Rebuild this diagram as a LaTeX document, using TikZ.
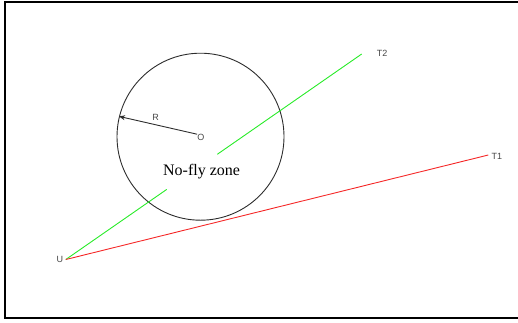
\documentclass[tikz,border=0pt]{standalone}
\usepackage{fontspec}
\setmainfont{Liberation Serif}
\newfontfamily\labelfont{Liberation Sans}
\usetikzlibrary{calc,arrows.meta,positioning}
\definecolor{zoneGray}{RGB}{45,45,45}
\definecolor{lblGray}{RGB}{70,70,70}
\definecolor{pathGreen}{RGB}{40,235,40}
\definecolor{pathRed}{RGB}{245,40,40}
\begin{document}
\begin{tikzpicture}[x=1pt,y=-1pt,
  lbl/.style={text=lblGray, inner sep=0pt, font=\labelfont\fontsize{9}{10}\selectfont},
  route/.style={line width=0.9pt}]
\useasboundingbox (0,0) rectangle (518,322);
\begin{scope}
\clip (0,0) rectangle (518,322);
\draw[black, line width=1.6pt] (4.8,1.8) rectangle (530,318);
\end{scope}

% no-fly zone
\node[draw=zoneGray, line width=0.9pt, circle, minimum size=167pt, inner sep=0pt] (zone) at (200.5,136.7) {};
\node[lbl] (O) at (200.8,137.6) {O};
\draw[zoneGray, line width=0.9pt, -{Stealth[length=6pt,width=5pt]}] (O.north west) -- (zone.166.5);
\node[lbl] (R) at (155.7,117.5) {R};
\node[font=\fontsize{16}{18}\selectfont] (nfz) at (201.6,172) {No-fly zone};

% end points
\coordinate (U) at (65.8,259.5);
\coordinate (T1) at (488.3,155);
\coordinate (T2) at (361.7,54);
\node[lbl, left=2.5pt of U] (Ulbl) {U};
\node[lbl, right=3pt of T1, yshift=-1.5pt] (T1lbl) {T1};
\node[lbl, right=15pt of T2, yshift=0.5pt] (T2lbl) {T2};

% routes
\coordinate (gapA) at ($(U)!0.341!(T2)$);
\coordinate (gapB) at ($(U)!0.512!(T2)$);
\draw[pathGreen, route] (U) -- (gapA);
\draw[pathGreen, route] (gapB) -- (T2);
\draw[pathRed, route] (U) -- (T1);
\end{tikzpicture}
\end{document}
